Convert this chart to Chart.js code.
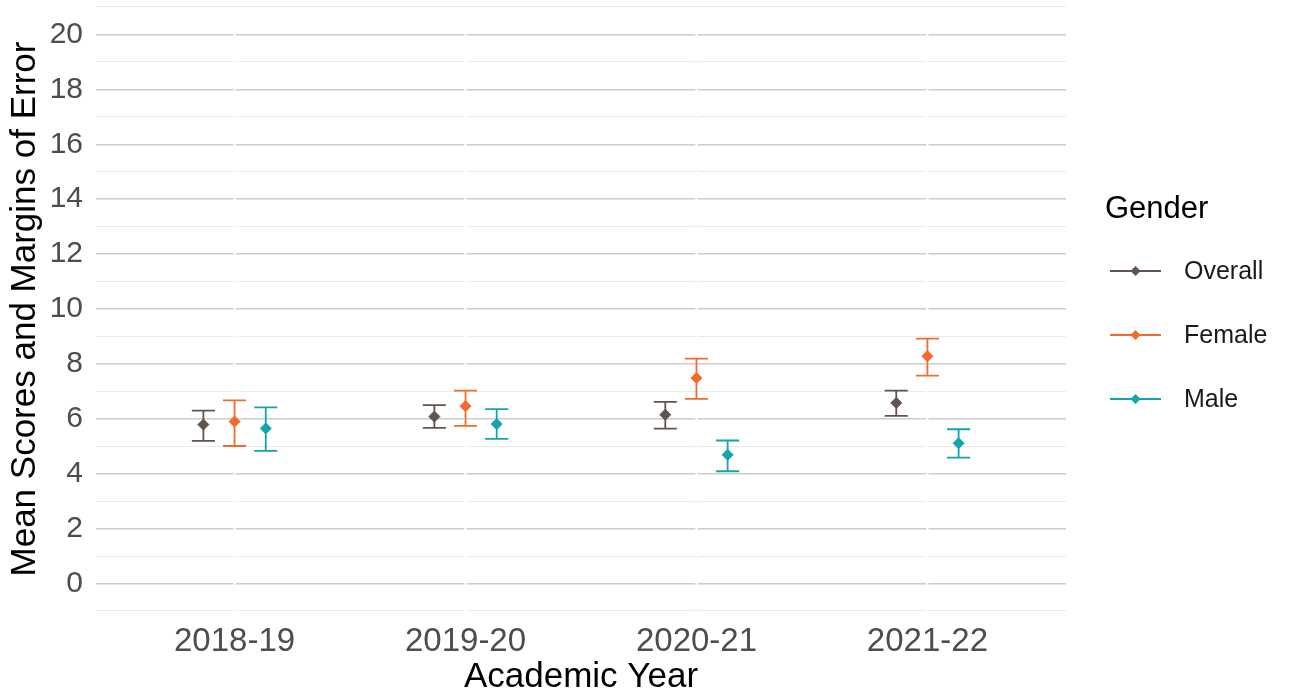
<!DOCTYPE html>
<html><head><meta charset="utf-8">
<script src="https://cdn.jsdelivr.net/npm/chart.js@4"></script>
<style>html,body{margin:0;padding:0;background:#fff}#wrap{width:1293px;height:697px}</style>
</head><body><div id="wrap"><canvas id="c" width="1293" height="697"></canvas></div>
<script>
const categories = ["2018-19", "2019-20", "2020-21", "2021-22"];
const seriesNames = ["Overall", "Female", "Male"];
const overallMean  = [5.79, 6.08, 6.15, 6.58];
const overallLower = [5.20, 5.67, 5.64, 6.11];
const overallUpper = [6.30, 6.50, 6.62, 7.03];
const femaleMean   = [5.90, 6.46, 7.49, 8.28];
const femaleLower  = [5.01, 5.74, 6.73, 7.57];
const femaleUpper  = [6.67, 7.03, 8.19, 8.92];
const maleMean     = [5.65, 5.81, 4.69, 5.11];
const maleLower    = [4.83, 5.27, 4.09, 4.59];
const maleUpper    = [6.42, 6.35, 5.21, 5.62];
const yTicks = [0, 2, 4, 6, 8, 10, 12, 14, 16, 18, 20];

const colors = ["#61544f", "#f26a2c", "#13a4ae"];
const dodge = [-0.135, 0, 0.135];
const means = [overallMean, femaleMean, maleMean];
const lows = [overallLower, femaleLower, maleLower];
const highs = [overallUpper, femaleUpper, maleUpper];

const datasets = seriesNames.map((name, s) => ({
  label: name,
  data: categories.map((c, i) => ({x: i + 1 + dodge[s], y: means[s][i], lo: lows[s][i], hi: highs[s][i]})),
  backgroundColor: colors[s],
  borderColor: colors[s],
  pointStyle: 'rectRot',
  pointRadius: 5.5,
  pointHoverRadius: 5.5,
  showLine: false
}));

const FONT = "'Liberation Sans', Arial, sans-serif";

const errorBars = {
  id: 'errorBars',
  beforeDatasetsDraw(chart) {
    const {ctx, scales: {x, y}, chartArea} = chart;
    ctx.save();
    ctx.strokeStyle = '#ffffff';
    ctx.lineWidth = 2.2;
    categories.forEach((c, i) => {
      const px = x.getPixelForValue(i + 1);
      ctx.beginPath(); ctx.moveTo(px, chartArea.top); ctx.lineTo(px, chartArea.bottom); ctx.stroke();
    });
    ctx.lineWidth = 1.8;
    chart.data.datasets.forEach((ds) => {
      ctx.strokeStyle = ds.borderColor;
      ds.data.forEach(p => {
        const px = x.getPixelForValue(p.x);
        const hw = x.getPixelForValue(p.x + 0.05) - px;
        const yl = y.getPixelForValue(p.lo), yh = y.getPixelForValue(p.hi);
        ctx.beginPath();
        ctx.moveTo(px, yl); ctx.lineTo(px, yh);
        ctx.moveTo(px - hw, yl); ctx.lineTo(px + hw, yl);
        ctx.moveTo(px - hw, yh); ctx.lineTo(px + hw, yh);
        ctx.stroke();
      });
    });
    ctx.restore();
  },
  afterDraw(chart) {
    const {ctx} = chart;
    ctx.save();
    ctx.fillStyle = '#000';
    ctx.font = '31px ' + FONT;
    ctx.textBaseline = 'middle';
    ctx.textAlign = 'left';
    ctx.fillText('Gender', 1105, 209);
    const rows = [271, 335, 399];
    seriesNames.forEach((n, s) => {
      const yy = rows[s];
      ctx.strokeStyle = colors[s];
      ctx.lineWidth = 1.8;
      ctx.beginPath(); ctx.moveTo(1110, yy); ctx.lineTo(1161, yy); ctx.stroke();
      ctx.fillStyle = colors[s];
      ctx.beginPath();
      const r = 5;
      ctx.moveTo(1135.5, yy - r); ctx.lineTo(1135.5 + r, yy); ctx.lineTo(1135.5, yy + r); ctx.lineTo(1135.5 - r, yy); ctx.closePath();
      ctx.fill();
      ctx.fillStyle = '#1a1a1a';
      ctx.font = '25px ' + FONT;
      ctx.fillText(n, 1184, yy + 1);
    });
    ctx.restore();
  }
};

new Chart(document.getElementById('c'), {
  type: 'scatter',
  data: { datasets },
  options: {
    responsive: false,
    animation: false,
    devicePixelRatio: 1,
    layout: { padding: { top: 7, right: 227, left: 0, bottom: 0 } },
    plugins: { legend: { display: false }, tooltip: { enabled: false } },
    scales: {
      x: {
        type: 'linear', min: 0.4, max: 4.6,
        afterBuildTicks(scale) { scale.ticks = categories.map((c, i) => ({value: i + 1})); },
        afterFit(scale) { scale.height = 86; scale.paddingLeft = 0; scale.paddingRight = 0; },
        ticks: {
          callback: (v) => categories[Math.round(v) - 1] || '',
          color: '#4d4d4d', font: { family: FONT, size: 33 }, padding: 11, maxRotation: 0, autoSkip: false
        },
        grid: { display: false, drawTicks: false },
        border: { display: false },
        title: { display: true, text: 'Academic Year', color: '#000', font: { family: FONT, size: 35, lineHeight: 1.1 }, padding: { top: 0, bottom: 0 } }
      },
      y: {
        min: -1, max: 21,
        afterBuildTicks(scale) {
          const t = [];
          for (let v = -1; v <= 21; v++) t.push({value: v});
          scale.ticks = t;
        },
        afterFit(scale) { scale.width = 96; scale.paddingTop = 0; scale.paddingBottom = 0; },
        ticks: {
          callback: (v) => yTicks.includes(v) ? String(v) : '',
          color: '#4d4d4d', font: { family: FONT, size: 30 }, padding: 13, autoSkip: false
        },
        grid: {
          drawTicks: false,
          color: (ctx) => (ctx.tick && yTicks.includes(ctx.tick.value)) ? '#cccccc' : '#ebebeb',
          lineWidth: (ctx) => (ctx.tick && yTicks.includes(ctx.tick.value)) ? 1.4 : 1.1
        },
        border: { display: false },
        title: { display: true, text: 'Mean Scores and Margins of Error', color: '#000', font: { family: FONT, size: 35, lineHeight: 1.1 }, padding: { top: 6, bottom: 0 } }
      }
    }
  },
  plugins: [errorBars]
});
</script>
</body></html>
